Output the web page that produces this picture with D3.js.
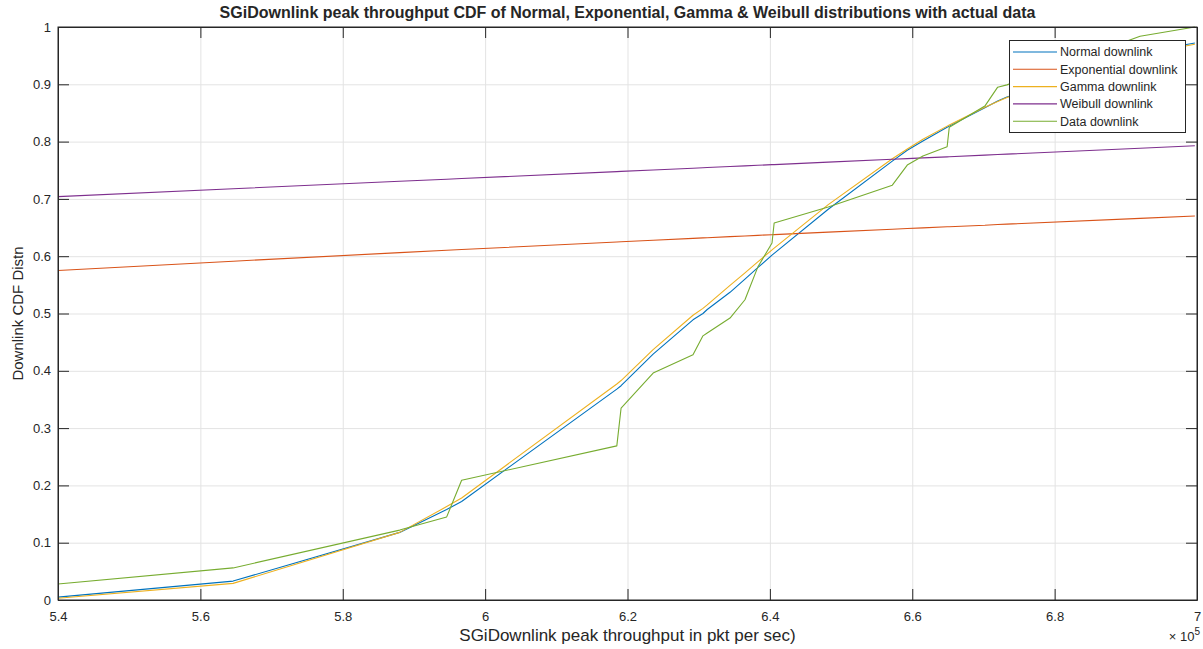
<!DOCTYPE html>
<html>
<head>
<meta charset="utf-8">
<script src="https://cdn.jsdelivr.net/npm/d3@7"></script>
<style>
  html, body { margin: 0; padding: 0; background: #ffffff; }
  svg { display: block; }
  text { font-family: "Liberation Sans", Arial, Helvetica, sans-serif; fill: #262626; }
</style>
</head>
<body>
<svg id="chart" width="1203" height="649"></svg>
<script>
// Sorted sample points of peak throughput (pkt/sec) at which each CDF is evaluated
const throughput = [540000, 564600, 588000, 594600, 596700, 618500, 619100, 623600, 629200,
  630600, 631200, 634400, 636500, 638300, 640300, 640600, 648200, 657200, 659300, 661500,
  664900, 665200, 670200, 672000, 673300, 692000, 699700];

// Fitted CDF values at those points
const normalCdf = [0.005, 0.033, 0.118, 0.158, 0.172, 0.368, 0.374, 0.429, 0.489,
  0.500, 0.507, 0.537, 0.560, 0.580, 0.602, 0.605, 0.682, 0.766, 0.785, 0.801,
  0.825, 0.827, 0.859, 0.871, 0.878, 0.955, 0.972];
const exponentialCdf = [0.5750, 0.5913, 0.6062, 0.6103, 0.6116, 0.6248, 0.6251, 0.6278, 0.6311,
  0.6319, 0.6323, 0.6341, 0.6353, 0.6364, 0.6375, 0.6377, 0.6420, 0.6471, 0.6483, 0.6495,
  0.6514, 0.6515, 0.6539, 0.6553, 0.6560, 0.6660, 0.6701];
const gammaCdf = [0.003, 0.029, 0.118, 0.163, 0.178, 0.377, 0.383, 0.437, 0.497,
  0.509, 0.515, 0.549, 0.571, 0.590, 0.611, 0.614, 0.690, 0.770, 0.787, 0.804,
  0.827, 0.829, 0.860, 0.870, 0.877, 0.952, 0.970];
const weibullCdf = [0.7040, 0.7177, 0.7307, 0.7344, 0.7355, 0.7476, 0.7480, 0.7505, 0.7536,
  0.7544, 0.7547, 0.7565, 0.7577, 0.7587, 0.7598, 0.7599, 0.7642, 0.7692, 0.7703, 0.7716,
  0.7734, 0.7736, 0.7764, 0.7774, 0.7781, 0.7885, 0.7928];
// Empirical CDF of the measured data
const dataCdf = [0.028, 0.056, 0.122, 0.145, 0.209, 0.269, 0.335, 0.396, 0.428,
  0.461, 0.466, 0.492, 0.524, 0.581, 0.623, 0.658, 0.686, 0.724, 0.759, 0.775,
  0.791, 0.825, 0.862, 0.895, 0.899, 0.984, 1.000];

const seriesNames = ["Normal downlink", "Exponential downlink", "Gamma downlink", "Weibull downlink", "Data downlink"];
const seriesColors = ["#0072BD", "#D95319", "#EDB120", "#7E2F8E", "#77AC30"];
const xTicks = [540000, 560000, 580000, 600000, 620000, 640000, 660000, 680000, 700000];
const yTicks = [0, 0.1, 0.2, 0.3, 0.4, 0.5, 0.6, 0.7, 0.8, 0.9, 1];

const titleText = "SGiDownlink peak throughput CDF of Normal, Exponential, Gamma & Weibull distributions with actual data";
const xLabel = "SGiDownlink peak throughput in pkt per sec)";
const yLabel = "Downlink CDF Distn";

const svg = d3.select("#chart");
const plotL = 58, plotR = 1197, plotT = 27, plotB = 600;

const x = d3.scaleLinear().domain([540000, 700000]).range([plotL, plotR]);
const y = d3.scaleLinear().domain([0, 1]).range([plotB, plotT]);

// grid
const grid = svg.append("g");
grid.selectAll("line.gx").data(xTicks).join("line")
  .attr("x1", d => x(d) + 0.5).attr("x2", d => x(d) + 0.5)
  .attr("y1", plotT).attr("y2", plotB)
  .attr("stroke", "#e3e3e3").attr("stroke-width", 1);
grid.selectAll("line.gy").data(yTicks).join("line")
  .attr("y1", d => y(d) + 0.5).attr("y2", d => y(d) + 0.5)
  .attr("x1", plotL).attr("x2", plotR)
  .attr("stroke", "#e3e3e3").attr("stroke-width", 1);

// series lines
const allSeries = [normalCdf, exponentialCdf, gammaCdf, weibullCdf, dataCdf];
const lineGen = d3.line()
  .x((d, i) => x(throughput[i]))
  .y(d => y(d));
svg.append("g").selectAll("path").data(allSeries).join("path")
  .attr("d", d => lineGen(d))
  .attr("fill", "none")
  .attr("stroke", (d, i) => seriesColors[i])
  .attr("stroke-width", 1.1)
  .attr("stroke-linejoin", "round");

// axes with inward ticks on all four sides
const tickLen = 11;
const fmtX = d => d3.format("~g")(d / 1e5);
const axB = svg.append("g").attr("transform", `translate(0,${plotB})`)
  .call(d3.axisBottom(x).tickValues(xTicks).tickSizeInner(-tickLen).tickSizeOuter(0).tickPadding(12).tickFormat(fmtX));
const axT = svg.append("g").attr("transform", `translate(0,${plotT})`)
  .call(d3.axisTop(x).tickValues(xTicks).tickSizeInner(-tickLen).tickSizeOuter(0).tickFormat(""));
const axL = svg.append("g").attr("transform", `translate(${plotL},0)`)
  .call(d3.axisLeft(y).tickValues(yTicks).tickSizeInner(-tickLen).tickSizeOuter(0).tickPadding(7).tickFormat(d3.format("~g")));
const axR = svg.append("g").attr("transform", `translate(${plotR},0)`)
  .call(d3.axisRight(y).tickValues(yTicks).tickSizeInner(-tickLen).tickSizeOuter(0).tickFormat(""));
[axB, axT, axL, axR].forEach(a => {
  a.select(".domain").attr("stroke", "#262626").attr("stroke-width", 1);
  a.selectAll(".tick line").attr("stroke", "#262626");
  a.selectAll(".tick text").attr("fill", "#262626").style("font-size", "13px")
    .style("font-family", '"Liberation Sans", Arial, sans-serif');
});

// box edges
svg.append("rect").attr("x", plotL).attr("y", plotT).attr("width", plotR - plotL).attr("height", plotB - plotT)
  .attr("fill", "none").attr("stroke", "#262626").attr("stroke-width", 1);

// exponent label
const ex = svg.append("text").attr("x", 1200).attr("y", 641).attr("text-anchor", "end").style("font-size", "13px");
ex.append("tspan").text("\u00d7 10");
ex.append("tspan").attr("dy", -6).style("font-size", "10px").text("5");

// title & axis labels
svg.append("text").attr("x", (plotL + plotR) / 2).attr("y", 18).attr("text-anchor", "middle")
  .style("font-size", "16px").style("font-weight", "bold").attr("fill", "#000").text(titleText);
svg.append("text").attr("x", (plotL + plotR) / 2).attr("y", 641).attr("text-anchor", "middle")
  .style("font-size", "17px").text(xLabel);
svg.append("text").attr("transform", `translate(23,${(plotT + plotB) / 2}) rotate(-90)`)
  .attr("text-anchor", "middle").style("font-size", "15px").text(yLabel);

// legend
const lg = svg.append("g").attr("transform", "translate(1009,40)");
lg.append("rect").attr("x", 0.5).attr("y", 0.5).attr("width", 176).attr("height", 92)
  .attr("fill", "#fff").attr("stroke", "#262626").attr("stroke-width", 1);
const rows = lg.selectAll("g.row").data(seriesNames).join("g")
  .attr("transform", (d, i) => `translate(0,${12 + i * 17.3})`);
rows.append("line").attr("x1", 4).attr("x2", 48).attr("y1", 0).attr("y2", 0)
  .attr("stroke", (d, i) => seriesColors[i]).attr("stroke-width", 1.1);
rows.append("text").attr("x", 51).attr("y", 0).attr("dy", "0.35em").style("font-size", "12.5px").text(d => d);
</script>
</body>
</html>
